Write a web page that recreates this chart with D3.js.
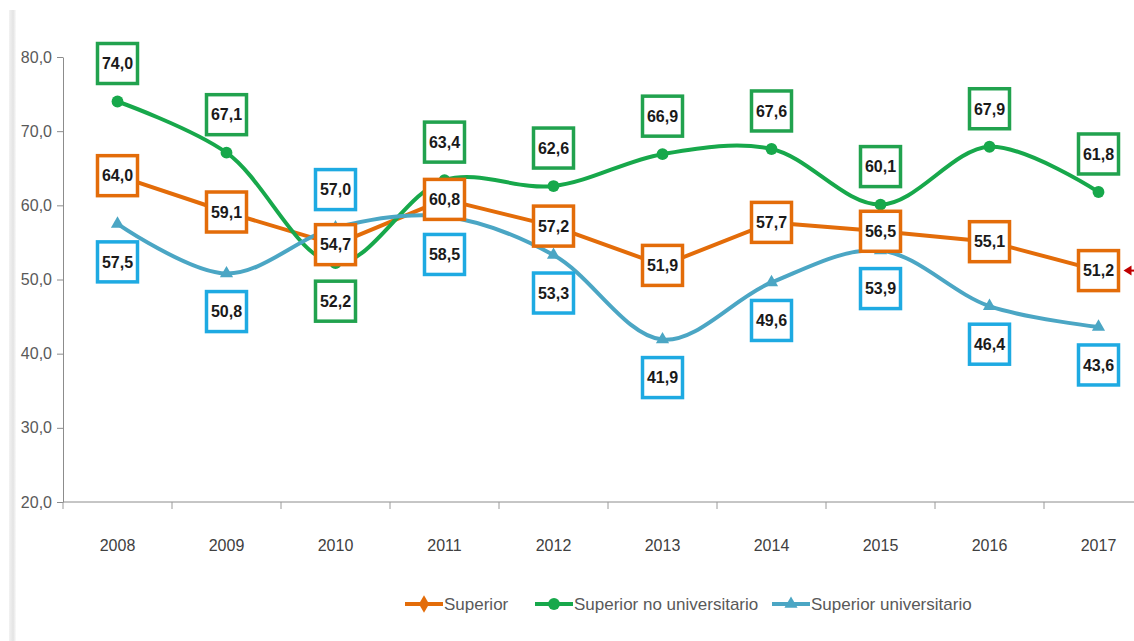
<!DOCTYPE html>
<html>
<head>
<meta charset="utf-8">
<script src="https://cdn.jsdelivr.net/npm/d3@7"></script>
<style>
  html, body { margin: 0; padding: 0; background: #fff; }
  svg { display: block; }
</style>
</head>
<body>
<div id="chart"></div>
<script>
// data
const years = ["2008", "2009", "2010", "2011", "2012", "2013", "2014", "2015", "2016", "2017"];
const superior = [64.0, 59.1, 54.7, 60.8, 57.2, 51.9, 57.7, 56.5, 55.1, 51.2];
const noUniversitario = [74.0, 67.1, 52.2, 63.4, 62.6, 66.9, 67.6, 60.1, 67.9, 61.8];
const universitario = [57.5, 50.8, 57.0, 58.5, 53.3, 41.9, 49.6, 53.9, 46.4, 43.6];
const yTicks = [20, 30, 40, 50, 60, 70, 80];
const seriesNames = ["Superior", "Superior no universitario", "Superior universitario"];

// where each label sits: 0 on the point, -1 above, 1 below
const greenPlace = [-1, -1, 1, -1, -1, -1, -1, -1, -1, -1];
const bluePlace = [1, 1, -1, 1, 1, 1, 1, 1, 1, 1];

const width = 1134, height = 641;
const font = "'Liberation Sans', Arial, sans-serif";
const fmt = v => d3.format(".1f")(v).replace(".", ",");

const svg = d3.select("#chart").append("svg")
    .attr("width", width)
    .attr("height", height);

// light gray strip on the left edge
const grad = svg.append("defs").append("linearGradient").attr("id", "edge");
grad.append("stop").attr("offset", "0%").attr("stop-color", "#f2f2f2");
grad.append("stop").attr("offset", "60%").attr("stop-color", "#e4e4e4");
grad.append("stop").attr("offset", "100%").attr("stop-color", "#fafafa");
svg.append("rect").attr("x", 9).attr("y", 10).attr("width", 7).attr("height", height - 10)
    .attr("fill", "url(#edge)");

const x = d3.scaleBand().domain(years).range([63, 1153]);
const y = d3.scaleLinear().domain([20, 80]).range([502, 57]);
const cx = d => x(d) + x.bandwidth() / 2;

// y axis
const yAxis = svg.append("g")
    .attr("transform", "translate(63,0)")
    .call(d3.axisLeft(y).tickValues(yTicks).tickFormat(fmt).tickSize(6).tickSizeOuter(0));
yAxis.select(".domain").attr("stroke", "#8c8c8c");
yAxis.selectAll(".tick line").attr("stroke", "#8c8c8c");
yAxis.selectAll(".tick text")
    .attr("x", -11)
    .attr("fill", "#595959")
    .style("font-family", font)
    .style("font-size", "16px");

// x axis, ticks between the categories
const xAxis = svg.append("g").attr("transform", "translate(0,502)");
xAxis.append("line")
    .attr("x1", 63).attr("x2", 1153)
    .attr("stroke", "#8c8c8c");
xAxis.selectAll("line.tk")
    .data(years)
    .join("line")
    .attr("class", "tk")
    .attr("x1", d => x(d)).attr("x2", d => x(d))
    .attr("y1", 0).attr("y2", 7)
    .attr("stroke", "#9a9a9a");
xAxis.selectAll("text")
    .data(years)
    .join("text")
    .attr("x", cx)
    .attr("y", 49)
    .attr("text-anchor", "middle")
    .attr("fill", "#404040")
    .style("font-family", font)
    .style("font-size", "16px")
    .text(d => d);

const series = [
  { name: seriesNames[0], values: superior, color: "#E36C09", box: "#E36C09", curve: d3.curveLinear, marker: "diamond", place: years.map(() => 0) },
  { name: seriesNames[1], values: noUniversitario, color: "#17A84B", box: "#21A24E", curve: d3.curveCatmullRom.alpha(0.5), marker: "circle", place: greenPlace },
  { name: seriesNames[2], values: universitario, color: "#4BA6C4", box: "#1EAAE2", curve: d3.curveCatmullRom.alpha(0.5), marker: "triangle", place: bluePlace }
];

const symbolType = { diamond: d3.symbolDiamond, circle: d3.symbolCircle, triangle: d3.symbolTriangle };
const symbolSize = { diamond: 90, circle: 110, triangle: 75 };

// lines
series.forEach(s => {
  const line = d3.line()
      .x((d, i) => cx(years[i]))
      .y(d => y(d))
      .curve(s.curve);
  svg.append("path")
      .attr("fill", "none")
      .attr("stroke", s.color)
      .attr("stroke-width", 4)
      .attr("stroke-linejoin", "round")
      .attr("d", line(s.values));
});

// markers
series.forEach(s => {
  svg.append("g").selectAll("path")
      .data(s.values)
      .join("path")
      .attr("transform", (d, i) => `translate(${cx(years[i])},${y(d)})`)
      .attr("d", d3.symbol(symbolType[s.marker], symbolSize[s.marker]))
      .attr("fill", s.color);
});

// boxed value labels; orange drawn last so it sits on top
[series[1], series[2], series[0]].forEach(s => {
  const g = svg.append("g").selectAll("g")
      .data(s.values)
      .join("g")
      .attr("transform", (d, i) => `translate(${cx(years[i])},${y(d) + s.place[i] * 38})`);
  g.append("rect")
      .attr("x", -20).attr("y", -20)
      .attr("width", 40).attr("height", 40)
      .attr("fill", "#fff")
      .attr("stroke", s.box)
      .attr("stroke-width", 3.5);
  g.append("text")
      .attr("text-anchor", "middle")
      .attr("dy", "0.36em")
      .attr("fill", "#1a1a1a")
      .style("font-family", font)
      .style("font-weight", "bold")
      .style("font-size", "16px")
      .text(d => fmt(d));
});

// small red pointer at the right edge, level with the last Superior value
svg.append("path")
    .attr("transform", `translate(${cx(years[9]) + 25},${y(superior[9])})`)
    .attr("d", "M0,0 L8,-5 L8,5 Z")
    .attr("fill", "#C00000");
svg.append("line")
    .attr("x1", cx(years[9]) + 32).attr("x2", cx(years[9]) + 45)
    .attr("y1", y(superior[9])).attr("y2", y(superior[9]))
    .attr("stroke", "#C00000").attr("stroke-width", 2);

// legend
const legendX = [405, 535, 772];
const legend = svg.append("g").attr("transform", "translate(0,604)");
series.forEach((s, i) => {
  const lg = legend.append("g").attr("transform", `translate(${legendX[i]},0)`);
  lg.append("line")
      .attr("x1", 0).attr("x2", 38)
      .attr("stroke", s.color).attr("stroke-width", 4);
  lg.append("path")
      .attr("transform", "translate(19,0)")
      .attr("d", d3.symbol(symbolType[s.marker], symbolSize[s.marker]))
      .attr("fill", s.color);
  lg.append("text")
      .attr("x", 39)
      .attr("dy", "0.35em")
      .attr("fill", "#595959")
      .style("font-family", font)
      .style("font-size", "17px")
      .text(s.name);
});
</script>
</body>
</html>
